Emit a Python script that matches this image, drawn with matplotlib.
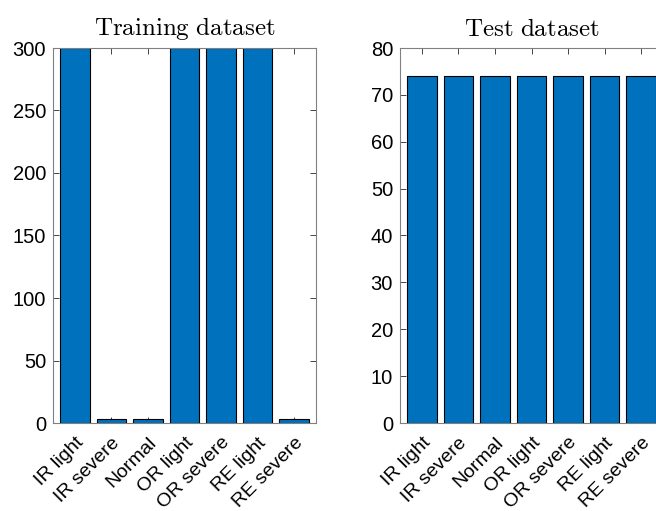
import matplotlib
matplotlib.use("Agg")
import matplotlib.pyplot as plt
import numpy as np

classes = ["IR light", "IR severe", "Normal", "OR light", "OR severe", "RE light", "RE severe"]
train_counts = [300, 3, 3, 300, 300, 300, 3]
test_counts = [74, 74, 74, 74, 74, 74, 74]

plt.rcParams["font.family"] = ["Liberation Sans", "DejaVu Sans"]
plt.rcParams["mathtext.fontset"] = "cm"

bar_color = "#0072BD"
axis_color = "#262626"

fig = plt.figure(figsize=(6.56, 5.11), dpi=100)
ax1 = fig.add_axes([53 / 656, 1 - 423 / 511, 263 / 656, 375 / 511])
ax2 = fig.add_axes([400 / 656, 1 - 423 / 511, 263 / 656, 375 / 511])


def style(ax, values, ymax, step, title):
    x = np.arange(1, len(values) + 1)
    ax.bar(x, values, width=0.8, color=bar_color, edgecolor="black", linewidth=0.8, zorder=2)
    ax.set_xlim(0.4, len(values) + 0.6)
    ax.set_ylim(0, ymax)
    ax.set_yticks(np.arange(0, ymax + 1, step))
    ax.set_xticks(x)
    ax.set_xticklabels(classes, rotation=45, ha="right", va="top", rotation_mode="anchor")
    ax.tick_params(direction="in", top=True, right=True, length=4, width=0.6,
                   color=axis_color, labelcolor="black")
    ax.tick_params(axis="x", labelsize=14, pad=8)
    ax.tick_params(axis="y", labelsize=14.5, pad=5)
    for s in ax.spines.values():
        s.set_color("#808080")
        s.set_linewidth(0.8)
    ax.set_title(r"$\mathrm{" + title.replace(" ", r"\ ") + "}$", fontsize=18, pad=9)


style(ax1, train_counts, 300, 50, "Training dataset")
style(ax2, test_counts, 80, 10, "Test dataset")

fig.savefig("out.png", dpi=100)
